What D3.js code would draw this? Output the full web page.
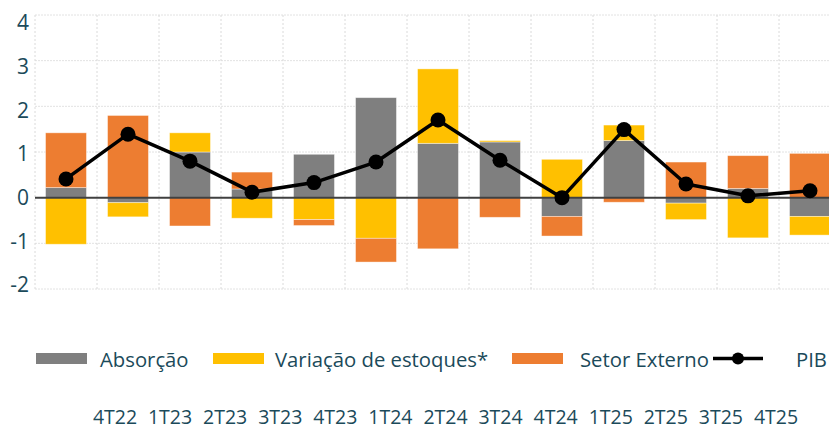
<!DOCTYPE html>
<html>
<head>
<meta charset="utf-8">
<script src="https://cdn.jsdelivr.net/npm/d3@7"></script>
<style>
  body { margin: 0; background: #fff; }
  svg { display: block; font-family: 'Open Sans', 'Noto Sans', sans-serif; }
</style>
</head>
<body>
<div id="chart"></div>
<script>
// dados (contribuição para o PIB, p.p.)
const quarters = ['4T22', '1T23', '2T23', '3T23', '4T23', '1T24', '2T24', '3T24', '4T24', '1T25', '2T25', '3T25', '4T25'];
const absorcao = [0.22, -0.11, 1.00, 0.19, 0.95, 2.19, 1.19, 1.22, -0.41, 1.25, -0.12, 0.20, -0.41];
const estoques = [-1.02, -0.31, 0.42, -0.45, -0.48, -0.89, 1.63, 0.03, 0.84, 0.34, -0.36, -0.88, -0.41];
const setorExterno = [1.20, 1.80, -0.62, 0.37, -0.13, -0.52, -1.12, -0.43, -0.43, -0.10, 0.78, 0.72, 0.97];
const pib = [0.41, 1.39, 0.80, 0.12, 0.33, 0.78, 1.70, 0.82, 0.00, 1.49, 0.30, 0.04, 0.15];
const yTicks = [4, 3, 2, 1, 0, -1, -2];

const seriesNames = ['Absorção', 'Variação de estoques*', 'Setor Externo'];
const seriesColors = ['#7f7f7f', '#ffc000', '#ed7d31'];

const width = 829;
const height = 429;
const textColor = '#1b4a5a';

const svg = d3.select('#chart')
  .append('svg')
  .attr('width', width)
  .attr('height', height);

// escalas
const x = d3.scaleBand()
  .domain(quarters)
  .range([35, 35 + 13 * 62])
  .paddingInner(0.34)
  .paddingOuter(0.17);

const y = d3.scaleLinear().domain([-2, 4]).range([289, 15]);
// os rótulos do eixo y ficam levemente deslocados da grade
const yLabel = d3.scaleLinear().domain([-2, 4]).range([285, 23]);

const rows = quarters.map((q, i) => ({
  q: q,
  [seriesNames[0]]: absorcao[i],
  [seriesNames[1]]: estoques[i],
  [seriesNames[2]]: setorExterno[i]
}));

const stacked = d3.stack()
  .keys(seriesNames)
  .offset(d3.stackOffsetDiverging)(rows);

// grade
const grid = svg.append('g');
grid.selectAll('.hgrid')
  .data(yTicks)
  .enter()
  .append('line')
  .attr('x1', 35)
  .attr('x2', width)
  .attr('y1', d => y(d))
  .attr('y2', d => y(d))
  .attr('stroke', '#e2e2e2')
  .attr('stroke-width', 1)
  .attr('stroke-dasharray', '2,1');

const bounds = d3.range(quarters.length + 1).map(i => x.range()[0] + i * x.step());
grid.selectAll('.vgrid')
  .data(bounds)
  .enter()
  .append('line')
  .attr('x1', d => d)
  .attr('x2', d => d)
  .attr('y1', y(4))
  .attr('y2', y(-2))
  .attr('stroke', '#dadada')
  .attr('stroke-width', 1)
  .attr('stroke-dasharray', '2,2');

// barras
svg.append('g')
  .selectAll('g')
  .data(stacked)
  .enter()
  .append('g')
  .attr('fill', (d, i) => seriesColors[i])
  .selectAll('rect')
  .data(d => d)
  .enter()
  .append('rect')
  .attr('x', d => x(d.data.q))
  .attr('width', x.bandwidth())
  .attr('y', d => y(Math.max(d[0], d[1])))
  .attr('height', d => Math.abs(y(d[0]) - y(d[1])))
  .attr('stroke', '#fff')
  .attr('stroke-opacity', 0.5)
  .attr('stroke-width', 0.8);

// linha do zero
svg.append('line')
  .attr('x1', 35)
  .attr('x2', width)
  .attr('y1', y(0))
  .attr('y2', y(0))
  .attr('stroke', '#404040')
  .attr('stroke-width', 2);

// PIB
const line = d3.line()
  .x((d, i) => x(quarters[i]) + x.bandwidth() / 2)
  .y(d => y(d));

svg.append('path')
  .datum(pib)
  .attr('d', line)
  .attr('fill', 'none')
  .attr('stroke', '#000')
  .attr('stroke-width', 3.5)
  .attr('stroke-linejoin', 'round');

svg.append('g')
  .selectAll('circle')
  .data(pib)
  .enter()
  .append('circle')
  .attr('cx', (d, i) => x(quarters[i]) + x.bandwidth() / 2)
  .attr('cy', d => y(d))
  .attr('r', 7.5)
  .attr('fill', '#000');

// rótulos do eixo y
svg.append('g')
  .selectAll('text')
  .data(yTicks)
  .enter()
  .append('text')
  .attr('x', 29)
  .attr('y', d => yLabel(d))
  .attr('dy', '0.35em')
  .attr('text-anchor', 'end')
  .attr('font-size', 21)
  .attr('fill', textColor)
  .text(d => d);

// legenda
const legendX = [36, 213, 512];
const legendText = [100, 275, 580];
const legend = svg.append('g');
seriesNames.forEach((name, i) => {
  legend.append('rect')
    .attr('x', legendX[i])
    .attr('y', 353)
    .attr('width', 51)
    .attr('height', 11)
    .attr('fill', seriesColors[i]);
  legend.append('text')
    .attr('x', legendText[i])
    .attr('y', 366.5)
    .attr('font-size', 20.3)
    .attr('fill', textColor)
    .text(name);
});
legend.append('line')
  .attr('x1', 713)
  .attr('x2', 763)
  .attr('y1', 358.5)
  .attr('y2', 358.5)
  .attr('stroke', '#000')
  .attr('stroke-width', 3.5);
legend.append('circle')
  .attr('cx', 738)
  .attr('cy', 358.5)
  .attr('r', 6)
  .attr('fill', '#000');
legend.append('text')
  .attr('x', 796)
  .attr('y', 366.5)
  .attr('font-size', 20.3)
  .attr('fill', textColor)
  .text('PIB');

// rótulos dos trimestres (linha separada, abaixo da legenda)
const xLabel = d3.scalePoint().domain(quarters).range([115, 776]);
svg.append('g')
  .selectAll('text')
  .data(quarters)
  .enter()
  .append('text')
  .attr('x', d => xLabel(d))
  .attr('y', 423.5)
  .attr('text-anchor', 'middle')
  .attr('font-size', 19.5)
  .attr('fill', textColor)
  .text(d => d);
</script>
</body>
</html>
